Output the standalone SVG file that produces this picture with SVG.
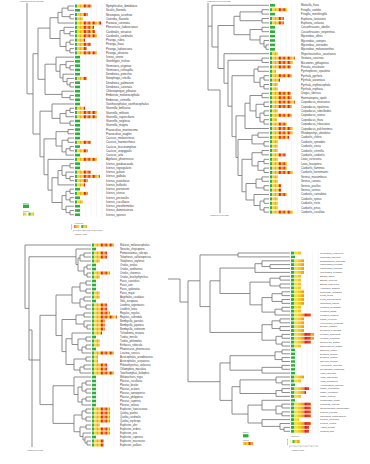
<svg xmlns="http://www.w3.org/2000/svg" width="370" height="464" viewBox="0 0 370 464">
<defs>
<style>
.t{fill:none;stroke:#7a7a7a;stroke-width:0.85}
.gr{fill:none;stroke:#e4e4e4;stroke-width:0.35}
.ax{fill:none;stroke:#888;stroke-width:0.4}
.g{fill:#2fae3e}
.lb{font-family:"Liberation Sans",Arial,sans-serif;fill:#3a3a3a}
.sm{font-family:"Liberation Sans",Arial,sans-serif;fill:#555;font-size:1.8px}
</style>
<g id="stripes">
<rect x="0" y="0" width="2.2" height="464" fill="#2fae3e"/>
<rect x="2.2" y="0" width="2.2" height="464" fill="#f4dc12"/>
<rect x="4.4" y="0" width="2.2" height="464" fill="#f5a21c"/>
<rect x="6.6" y="0" width="2.2" height="464" fill="#f4dc12"/>
<rect x="8.8" y="0" width="2.2" height="464" fill="#e3211c"/>
<rect x="11" y="0" width="2.2" height="464" fill="#f5a21c"/>
<rect x="13.2" y="0" width="2.2" height="464" fill="#e3211c"/>
<rect x="15.4" y="0" width="2.2" height="464" fill="#f4dc12"/>
<rect x="17.6" y="0" width="2.2" height="464" fill="#e3211c"/>
<rect x="19.8" y="0" width="2.2" height="464" fill="#f5a21c"/>
<rect x="22" y="0" width="2.2" height="464" fill="#f4dc12"/>
<rect x="24.2" y="0" width="2.2" height="464" fill="#e3211c"/>
</g>
<g id="cols">
<rect x="0" y="0" width="3.3" height="464" fill="#2fae3e"/>
<rect x="3.3" y="0" width="3.3" height="464" fill="#f4e02a"/>
<rect x="6.6" y="0" width="3.3" height="464" fill="#f6c81e"/>
<rect x="9.9" y="0" width="3.3" height="464" fill="#f5a21c"/>
<rect x="13.2" y="0" width="3.3" height="464" fill="#e3211c"/>
<rect x="16.5" y="0" width="3.3" height="464" fill="#e8401c"/>
<rect x="19.8" y="0" width="3.3" height="464" fill="#f5a21c"/>
<rect x="23.1" y="0" width="3.3" height="464" fill="#e3211c"/>
</g>
<pattern id="pTL" patternUnits="userSpaceOnUse" x="75" y="0" width="26.4" height="464"><use href="#stripes"/></pattern>
<pattern id="pTR" patternUnits="userSpaceOnUse" x="270" y="0" width="26.4" height="464"><use href="#stripes"/></pattern>
<pattern id="pBL" patternUnits="userSpaceOnUse" x="92" y="0" width="26.4" height="464"><use href="#stripes"/></pattern>
<pattern id="pBR" patternUnits="userSpaceOnUse" x="291" y="0" width="26.4" height="464"><use href="#cols"/></pattern>
<pattern id="pLg" patternUnits="userSpaceOnUse" x="0" y="0" width="26.4" height="464"><use href="#stripes" x="2.2"/></pattern>
</defs>
<rect width="370" height="464" fill="#ffffff"/>

<!-- ================= TOP LEFT ================= -->
<g id="panel-top-left">
<text class="sm" x="20" y="2.2">continued from previous page</text>
<path class="gr" d="M75 4V217M80.4 4V217M85.8 4V217M91.2 4V217M96.6 4V217M102 4V217"/>
<g id="tl-connectors">
<path class="t" d="M27 3V93.85H33M33 53.7V134M33 53.7H38M33 134H40M38 28.1V79.3M38 28.1H50M38 79.3H45M50 17.7V38.5M50 17.7H58M50 38.5H60M58 12.39V23.04M58 12.39H62M58 23.04H74M62 8.13V16.65M62 8.13H68M62 16.65H70M68 6V10.26M68 6H74M68 10.26H74M70 14.52V18.78M70 14.52H74M70 18.78H74M60 30.5V46.47M60 30.5H64M60 46.47H66M64 27.3V33.69M64 27.3H74M64 33.69H70M70 31.56V35.82M70 31.56H74M70 35.82H74M66 42.21V50.73M66 42.21H70M66 50.73H70M70 40.08V44.34M70 40.08H74M70 44.34H74M70 48.6V52.86M70 48.6H74M70 52.86H74M45 64.2V94.4M45 64.2H56M45 94.4H62M56 57.12V71.25M56 57.12H74M56 71.25H60M60 64.6V77.9M60 64.6H66M60 77.9H63M66 61.38V67.77M66 61.38H74M66 67.77H70M70 65.64V69.9M70 65.64H74M70 69.9H74M63 74.16V81.6M63 74.16H74M63 81.6H67M67 78.42V84.81M67 78.42H74M67 84.81H70M70 82.68V86.94M70 82.68H74M70 86.94H74M62 91.2V97.6M62 91.2H74M62 97.6H70M70 95.46V99.72M70 95.46H74M70 99.72H74M40 111.17V156.8M40 111.17H52M40 156.8H44M52 103.98V118.36M52 103.98H74M52 118.36H60M60 113.56V123.15M60 113.56H66M60 123.15H70M66 110.37V116.76M66 110.37H70M66 116.76H74M70 108.24V112.5M70 108.24H74M70 112.5H74M70 121.02V125.28M70 121.02H74M70 125.28H74M44 138.86V174.73M44 138.86H56M44 174.73H48M56 131.67V146.05M56 131.67H68M56 146.05H62M68 129.54V133.8M68 129.54H74M68 133.8H74M62 140.19V151.9M62 140.19H68M62 151.9H66M68 138.06V142.32M68 138.06H74M68 142.32H74M66 148.71V155.1M66 148.71H70M66 155.1H74M70 146.58V150.84M70 146.58H74M70 150.84H74M48 159.36V190.1M48 159.36H74M48 190.1H52M52 177.73V202.5M52 177.73H58M52 202.5H62M58 170.54V184.92M58 170.54H62M58 184.92H74M62 165.75V175.33M62 165.75H70M62 175.33H66M70 163.62V167.88M70 163.62H74M70 167.88H74M66 172.14V178.53M66 172.14H74M66 178.53H70M70 176.4V180.66M70 176.4H74M70 180.66H74M62 195.57V209.42M62 195.57H66M62 209.42H66M66 191.31V199.83M66 191.31H70M66 199.83H70M70 189.18V193.44M70 189.18H74M70 193.44H74M70 197.7V201.96M70 197.7H74M70 201.96H74M66 206.22V212.61M66 206.22H74M66 212.61H70M70 210.48V214.74M70 210.48H74M70 214.74H74"/>
</g>
<g id="tl-bars" fill="url(#pTL)">
<rect x="75" y="4.5" width="17" height="3"/>
<rect class="g" x="75" y="8.96" width="5" height="2.6"/>
<rect x="75" y="13.02" width="13" height="3"/>
<rect x="75" y="17.28" width="8" height="3"/>
<rect x="75" y="21.54" width="26" height="3"/>
<rect x="75" y="25.8" width="19" height="3"/>
<rect x="75" y="30.06" width="20" height="3"/>
<rect x="75" y="34.32" width="22" height="3"/>
<rect x="75" y="38.58" width="10" height="3"/>
<rect x="75" y="42.84" width="16" height="3"/>
<rect x="75" y="47.1" width="12" height="3"/>
<rect x="75" y="51.36" width="22" height="3"/>
<rect class="g" x="75" y="55.82" width="5" height="2.6"/>
<rect class="g" x="75" y="60.08" width="5" height="2.6"/>
<rect class="g" x="75" y="64.34" width="5" height="2.6"/>
<rect class="g" x="75" y="68.6" width="5" height="2.6"/>
<rect class="g" x="75" y="72.86" width="5" height="2.6"/>
<rect x="75" y="76.92" width="12" height="3"/>
<rect class="g" x="75" y="81.38" width="5" height="2.6"/>
<rect class="g" x="75" y="85.64" width="5" height="2.6"/>
<rect class="g" x="75" y="89.9" width="5" height="2.6"/>
<rect class="g" x="75" y="94.16" width="5" height="2.6"/>
<rect class="g" x="75" y="98.42" width="5" height="2.6"/>
<rect class="g" x="75" y="102.68" width="5" height="2.6"/>
<rect x="75" y="106.74" width="10" height="3"/>
<rect x="75" y="111" width="22" height="3"/>
<rect x="75" y="115.26" width="22" height="3"/>
<rect class="g" x="75" y="119.72" width="5" height="2.6"/>
<rect class="g" x="75" y="123.98" width="5" height="2.6"/>
<rect class="g" x="75" y="128.24" width="5" height="2.6"/>
<rect class="g" x="75" y="132.5" width="5" height="2.6"/>
<rect class="g" x="75" y="136.76" width="5" height="2.6"/>
<rect x="75" y="140.82" width="16" height="3"/>
<rect class="g" x="75" y="145.28" width="5" height="2.6"/>
<rect x="75" y="149.34" width="13" height="3"/>
<rect class="g" x="75" y="153.8" width="5" height="2.6"/>
<rect x="75" y="157.86" width="22" height="3"/>
<rect class="g" x="75" y="162.32" width="5" height="2.6"/>
<rect class="g" x="75" y="166.58" width="5" height="2.6"/>
<rect x="75" y="170.64" width="16" height="3"/>
<rect x="75" y="174.9" width="25" height="3"/>
<rect x="75" y="179.16" width="13" height="3"/>
<rect x="75" y="183.42" width="10" height="3"/>
<rect class="g" x="75" y="187.88" width="5" height="2.6"/>
<rect x="75" y="191.94" width="13" height="3"/>
<rect class="g" x="75" y="196.4" width="5" height="2.6"/>
<rect x="75" y="200.46" width="8" height="3"/>
<rect class="g" x="75" y="204.92" width="5" height="2.6"/>
<rect class="g" x="75" y="209.18" width="5" height="2.6"/>
<rect class="g" x="75" y="213.44" width="5" height="2.6"/>
</g>
<g id="tl-labels">
<text class="lb" font-size="2.9" x="106" y="7"><tspan x="106" dy="0">Nymphicolus_dimidiatus</tspan><tspan x="106" dy="4.26">Sicalis_flaveola</tspan><tspan x="106" dy="4.26">Nesospiza_acunhae</tspan><tspan x="106" dy="4.26">Coereba_flaveola</tspan><tspan x="106" dy="4.26">Paroaria_coronata</tspan><tspan x="106" dy="4.26">Pheucticus_ludovicianus</tspan><tspan x="106" dy="4.26">Cardinalis_sinuatus</tspan><tspan x="106" dy="4.26">Cardinalis_cardinalis</tspan><tspan x="106" dy="4.26">Piranga_rubra</tspan><tspan x="106" dy="4.26">Piranga_flava</tspan><tspan x="106" dy="4.26">Piranga_ludoviciana</tspan><tspan x="106" dy="4.26">Piranga_olivacea</tspan><tspan x="106" dy="4.26">Icteria_virens</tspan><tspan x="106" dy="4.26">Geothlypis_trichas</tspan><tspan x="106" dy="4.26">Vermivora_virginiae</tspan><tspan x="106" dy="4.26">Vermivora_ruficapilla</tspan><tspan x="106" dy="4.26">Dendroica_petechia</tspan><tspan x="106" dy="4.26">Setophaga_ruticilla</tspan><tspan x="106" dy="4.26">Dendroica_palmarum</tspan><tspan x="106" dy="4.26">Dendroica_coronata</tspan><tspan x="106" dy="4.26">Chlorospingus_pileatus</tspan><tspan x="106" dy="4.26">Emberiza_melanocephala</tspan><tspan x="106" dy="4.26">Emberiza_citrinella</tspan><tspan x="106" dy="4.26">Xanthocephalus_xanthocephalus</tspan><tspan x="106" dy="4.26">Sturnella_bellicosa</tspan><tspan x="106" dy="4.26">Sturnella_militaris</tspan><tspan x="106" dy="4.26">Sturnella_superciliaris</tspan><tspan x="106" dy="4.26">Sturnella_neglecta</tspan><tspan x="106" dy="4.26">Sturnella_magna</tspan><tspan x="106" dy="4.26">Psarocolius_montezuma</tspan><tspan x="106" dy="4.26">Psarocolius_wagleri</tspan><tspan x="106" dy="4.26">Cacicus_melanicterus</tspan><tspan x="106" dy="4.26">Cacicus_haemorrhous</tspan><tspan x="106" dy="4.26">Cacicus_leucoramphus</tspan><tspan x="106" dy="4.26">Cacicus_uropygialis</tspan><tspan x="106" dy="4.26">Cacicus_cela</tspan><tspan x="106" dy="4.26">Agelaius_phoeniceus</tspan><tspan x="106" dy="4.26">Icterus_graduacauda</tspan><tspan x="106" dy="4.26">Icterus_nigrogularis</tspan><tspan x="106" dy="4.26">Icterus_gularis</tspan><tspan x="106" dy="4.26">Icterus_galbula</tspan><tspan x="106" dy="4.26">Icterus_pustulatus</tspan><tspan x="106" dy="4.26">Icterus_bullockii</tspan><tspan x="106" dy="4.26">Icterus_parisorum</tspan><tspan x="106" dy="4.26">Icterus_icterus</tspan><tspan x="106" dy="4.26">Icterus_pectoralis</tspan><tspan x="106" dy="4.26">Icterus_cucullatus</tspan><tspan x="106" dy="4.26">Icterus_prosthemelas</tspan><tspan x="106" dy="4.26">Icterus_dominicensis</tspan><tspan x="106" dy="4.26">Icterus_spurius</tspan></text>
</g>
<g id="tl-legend">
<text class="sm" x="23" y="203.6">absent</text>
<rect class="g" x="23" y="204.6" width="6" height="3.4"/>
<text class="sm" x="23" y="211.6">present</text>
<rect x="23" y="212.6" width="11" height="3" fill="url(#pLg)"/>
</g>
<g id="tl-scale">
<text class="sm" x="74" y="223.6"># reactions</text>
<path class="ax" d="M71.5 224.5V229.5M71 225H72M71 229H72"/>
<rect x="74" y="225" width="13" height="3" fill="url(#pLg)"/>
<path class="ax" d="M73 230.5H103M73 230.5V231.5M78.4 230.5V231.5M83.8 230.5V231.5M89.2 230.5V231.5M94.6 230.5V231.5M100 230.5V231.5"/>
<text class="sm" x="75" y="234.6">pathway length</text>
</g>
</g>

<!-- ================= TOP RIGHT ================= -->
<g id="panel-top-right">
<text class="sm" x="207" y="2.4">continued from previous page</text>
<path class="gr" d="M270 3V214M275.4 3V214M280.8 3V214M286.2 3V214M291.6 3V214M297 3V214"/>
<g id="tr-connectors">
<path class="t" d="M208 3V90M208 26.15H212M208 90H220V213M212 5.3V47M212 5.3H269M212 47H218M218 25.5V68.5M218 25.5H234M218 68.5H224M234 16.3V34.7M234 16.3H240M234 34.7H250M240 11.9V20.7M240 11.9H262M240 20.7H262M262 9.7V14.1M262 9.7H269M262 14.1H269M262 18.5V22.9M262 18.5H269M262 22.9H269M250 29.5V39.95M250 29.5H262M250 39.95H260M262 27.3V31.7M262 27.3H269M262 31.7H269M260 36.1V43.8M260 36.1H269M260 43.8H264M264 40.5V47.1M264 40.5H269M264 47.1H266M266 44.9V49.3M266 44.9H269M266 49.3H269M224 53.7V83.25M224 53.7H269M224 83.25H228M228 60.3V106.2M228 60.3H262M228 106.2H232M262 58.1V62.5M262 58.1H269M262 62.5H269M232 75.7V136.7M232 75.7H254M232 136.7H236M254 69.1V82.3M254 69.1H258M254 82.3H260M258 66.9V71.3M258 66.9H269M258 71.3H269M260 77.9V86.7M260 77.9H264M260 86.7H264M264 75.7V80.1M264 75.7H269M264 80.1H269M264 84.5V88.9M264 84.5H269M264 88.9H269M236 115.85V157.5M236 115.85H245M236 157.5H238M245 103.2V128.5M245 103.2H250M245 128.5H269M250 95.5V110.9M250 95.5H262M250 110.9H256M262 93.3V97.7M262 93.3H269M262 97.7H269M256 104.3V117.5M256 104.3H264M256 117.5H260M264 102.1V106.5M264 102.1H269M264 106.5H269M260 113.1V121.9M260 113.1H264M260 121.9H264M264 110.9V115.3M264 110.9H269M264 115.3H269M264 119.7V124.1M264 119.7H269M264 124.1H269M238 139.5V175.5M238 139.5H252M238 175.5H242M252 135.1V143.9M252 135.1H258M252 143.9H264M258 132.9V137.3M258 132.9H269M258 137.3H269M264 141.7V146.1M264 141.7H269M264 146.1H269M242 159.3V191.75M242 159.3H252M242 191.75H246M252 152.7V165.9M252 152.7H262M252 165.9H258M262 150.5V154.9M262 150.5H269M262 154.9H269M258 161.5V170.3M258 161.5H264M258 170.3H264M264 159.3V163.7M264 159.3H269M264 163.7H269M264 168.1V172.5M264 168.1H269M264 172.5H269M246 183.5V200M246 183.5H256M246 200H254M256 179.1V187.9M256 179.1H262M256 187.9H264M262 176.9V181.3M262 176.9H269M262 181.3H269M264 185.7V190.1M264 185.7H269M264 190.1H269M254 194.5V205.5M254 194.5H269M254 205.5H260M260 201.1V209.9M260 201.1H264M260 209.9H264M264 198.9V203.3M264 198.9H269M264 203.3H269M264 207.7V212.1M264 207.7H269M264 212.1H269"/>
</g>
<g id="tr-bars" fill="url(#pTR)">
<rect class="g" x="270" y="4" width="5" height="2.6"/>
<rect x="270" y="8.2" width="17" height="3"/>
<rect class="g" x="270" y="12.8" width="5" height="2.6"/>
<rect x="270" y="17" width="14" height="3"/>
<rect x="270" y="21.4" width="14" height="3"/>
<rect class="g" x="270" y="26" width="5" height="2.6"/>
<rect class="g" x="270" y="30.4" width="5" height="2.6"/>
<rect class="g" x="270" y="34.8" width="5" height="2.6"/>
<rect class="g" x="270" y="39.2" width="5" height="2.6"/>
<rect class="g" x="270" y="43.6" width="5" height="2.6"/>
<rect class="g" x="270" y="48" width="5" height="2.6"/>
<rect x="270" y="52.2" width="8" height="3"/>
<rect x="270" y="56.6" width="25" height="3"/>
<rect x="270" y="61" width="23" height="3"/>
<rect x="270" y="65.4" width="21" height="3"/>
<rect x="270" y="69.8" width="6" height="3"/>
<rect x="270" y="74.2" width="22" height="3"/>
<rect x="270" y="78.6" width="10" height="3"/>
<rect x="270" y="83" width="8" height="3"/>
<rect x="270" y="87.4" width="8" height="3"/>
<rect x="270" y="91.8" width="21" height="3"/>
<rect x="270" y="96.2" width="22" height="3"/>
<rect x="270" y="100.6" width="25" height="3"/>
<rect x="270" y="105" width="22" height="3"/>
<rect x="270" y="109.4" width="8" height="3"/>
<rect x="270" y="113.8" width="22" height="3"/>
<rect x="270" y="118.2" width="7" height="3"/>
<rect x="270" y="122.6" width="17" height="3"/>
<rect x="270" y="127" width="23" height="3"/>
<rect x="270" y="131.4" width="23" height="3"/>
<rect x="270" y="135.8" width="19" height="3"/>
<rect x="270" y="140.2" width="8" height="3"/>
<rect x="270" y="144.6" width="8" height="3"/>
<rect x="270" y="149" width="8" height="3"/>
<rect x="270" y="153.4" width="16" height="3"/>
<rect x="270" y="157.8" width="8" height="3"/>
<rect x="270" y="162.2" width="17" height="3"/>
<rect x="270" y="166.6" width="17" height="3"/>
<rect x="270" y="171" width="23" height="3"/>
<rect x="270" y="175.4" width="8" height="3"/>
<rect x="270" y="179.8" width="8" height="3"/>
<rect x="270" y="184.2" width="11" height="3"/>
<rect x="270" y="188.6" width="11" height="3"/>
<rect x="270" y="193" width="17" height="3"/>
<rect x="270" y="197.4" width="8" height="3"/>
<rect x="270" y="201.8" width="8" height="3"/>
<rect x="270" y="206.2" width="8" height="3"/>
<rect x="270" y="210.6" width="23" height="3"/>
</g>
<g id="tr-labels">
<text class="lb" font-size="2.7" x="301" y="6.3"><tspan x="301" dy="0">Motacilla_flava</tspan><tspan x="301" dy="4.4">Fringilla_coelebs</tspan><tspan x="301" dy="4.4">Fringilla_montifringilla</tspan><tspan x="301" dy="4.4">Euphonia_laniirostris</tspan><tspan x="301" dy="4.4">Euphonia_violacea</tspan><tspan x="301" dy="4.4">Coccothraustes_abeillei</tspan><tspan x="301" dy="4.4">Coccothraustes_vespertinus</tspan><tspan x="301" dy="4.4">Mycerobas_affinis</tspan><tspan x="301" dy="4.4">Mycerobas_carnipes</tspan><tspan x="301" dy="4.4">Mycerobas_icterioides</tspan><tspan x="301" dy="4.4">Mycerobas_melanozanthos</tspan><tspan x="301" dy="4.4">Rhynchostruthus_socotranus</tspan><tspan x="301" dy="4.4">Vestiaria_coccinea</tspan><tspan x="301" dy="4.4">Bucanetes_githagineus</tspan><tspan x="301" dy="4.4">Pinicola_enucleator</tspan><tspan x="301" dy="4.4">Pyrrhoplectes_epauletta</tspan><tspan x="301" dy="4.4">Pyrrhula_pyrrhula</tspan><tspan x="301" dy="4.4">Pyrrhula_aurantiaca</tspan><tspan x="301" dy="4.4">Pyrrhula_erythrocephala</tspan><tspan x="301" dy="4.4">Pyrrhula_erythaca</tspan><tspan x="301" dy="4.4">Uragus_sibiricus</tspan><tspan x="301" dy="4.4">Haematospiza_sipahi</tspan><tspan x="301" dy="4.4">Carpodacus_mexicanus</tspan><tspan x="301" dy="4.4">Carpodacus_nipalensis</tspan><tspan x="301" dy="4.4">Carpodacus_rubicilloides</tspan><tspan x="301" dy="4.4">Carpodacus_roseus</tspan><tspan x="301" dy="4.4">Carpodacus_thura</tspan><tspan x="301" dy="4.4">Carpodacus_trifasciatus</tspan><tspan x="301" dy="4.4">Carpodacus_pulcherrimus</tspan><tspan x="301" dy="4.4">Rhodopechys_obsoletus</tspan><tspan x="301" dy="4.4">Carduelis_chloris</tspan><tspan x="301" dy="4.4">Carduelis_spinoides</tspan><tspan x="301" dy="4.4">Carduelis_sinica</tspan><tspan x="301" dy="4.4">Carduelis_citrinella</tspan><tspan x="301" dy="4.4">Carduelis_carduelis</tspan><tspan x="301" dy="4.4">Loxia_curvirostra</tspan><tspan x="301" dy="4.4">Loxia_leucoptera</tspan><tspan x="301" dy="4.4">Carduelis_flammea</tspan><tspan x="301" dy="4.4">Carduelis_hornemanni</tspan><tspan x="301" dy="4.4">Serinus_mozambicus</tspan><tspan x="301" dy="4.4">Serinus_canaria</tspan><tspan x="301" dy="4.4">Serinus_pusillus</tspan><tspan x="301" dy="4.4">Serinus_serinus</tspan><tspan x="301" dy="4.4">Carduelis_cannabina</tspan><tspan x="301" dy="4.4">Carduelis_spinus</tspan><tspan x="301" dy="4.4">Carduelis_tristis</tspan><tspan x="301" dy="4.4">Carduelis_pinus</tspan><tspan x="301" dy="4.4">Carduelis_cucullata</tspan></text>
</g>
<text class="sm" x="210" y="216">continued on next page</text>
</g>

<!-- ================= BOTTOM LEFT ================= -->
<g id="panel-bottom-left">
<path class="gr" d="M92 243V447M97.4 243V447M102.8 243V447M108.2 243V447M113.6 243V447"/>
<g id="bl-connectors">
<path class="t" d="M25 245V308.4H29M25 245H91M29 256.75V360M29 256.75H76M29 360H40M29 330H32V447M76 249V264.5M76 249H91M76 264.5H78M78 258V271M78 258H80M78 271H84M80 255V261M80 255H84M80 261H91M84 253V257M84 253H91M84 257H91M84 267V275M84 267H87M84 275H87M87 265V269M87 265H91M87 269H91M87 273V277M87 273H91M87 277H91M40 315.3V404.6M40 315.3H56M40 404.6H53M56 295V335.55M56 295H72M56 335.55H62M72 287V303M72 287H80M72 303H80M80 283V291M80 283H86M80 291H86M86 281V285M86 281H91M86 285H91M86 289V293M86 289H91M86 293H91M80 299V307M80 299H84M80 307H86M84 297V301M84 297H91M84 301H91M86 305V309M86 305H91M86 309H91M62 319.5V351.6M62 319.5H76M62 351.6H66M76 315V324M76 315H84M76 324H84M84 313V317M84 313H91M84 317H91M84 321V327M84 321H91M84 327H87M87 325V329M87 325H91M87 329H91M66 338.75V364.5M66 338.75H72M66 364.5H74M72 333V344.5M72 333H91M72 344.5H78M78 339V350M78 339H86M78 350H82M86 337V341M86 337H91M86 341H91M82 347V353M82 347H86M82 353H91M86 345V349M86 345H91M86 349H91M74 359V370M74 359H86M74 370H80M86 357V361M86 357H91M86 361H91M80 367V373M80 367H84M80 373H91M84 365V369M84 365H91M84 369H91M53 385.75V423.4M53 385.75H74M53 423.4H74M74 377V394.5M74 377H91M74 394.5H78M78 387V402M78 387H82M78 402H82M82 383V391M82 383H86M82 391H86M86 381V385M86 381H91M86 385H91M86 389V393M86 389H91M86 393H91M82 399V405M82 399H86M82 405H91M86 397V401M86 397H91M86 401H91M74 415V431.75M74 415H82M74 431.75H80M82 411V419M82 411H86M82 419H86M86 409V413M86 409H91M86 413H91M86 417V421M86 417H91M86 421H91M80 427V436.5M80 427H86M80 436.5H83M86 425V429M86 425H91M86 429H91M83 433V440M83 433H91M83 440H85M85 437V443M85 437H91M85 443H87M87 441V445M87 441H91M87 445H91"/>
</g>
<g id="bl-bars" fill="url(#pBL)">
<rect x="92" y="243.5" width="22" height="3"/>
<rect class="g" x="92" y="247.7" width="4" height="2.6"/>
<rect x="92" y="251.5" width="15" height="3"/>
<rect x="92" y="255.5" width="15" height="3"/>
<rect x="92" y="259.5" width="8" height="3"/>
<rect class="g" x="92" y="263.7" width="4" height="2.6"/>
<rect class="g" x="92" y="267.7" width="4" height="2.6"/>
<rect x="92" y="271.5" width="18" height="3"/>
<rect x="92" y="275.5" width="8" height="3"/>
<rect class="g" x="92" y="279.7" width="4" height="2.6"/>
<rect class="g" x="92" y="283.7" width="4" height="2.6"/>
<rect class="g" x="92" y="287.7" width="4" height="2.6"/>
<rect x="92" y="291.5" width="8" height="3"/>
<rect x="92" y="295.5" width="8" height="3"/>
<rect class="g" x="92" y="299.7" width="4" height="2.6"/>
<rect x="92" y="303.5" width="15" height="3"/>
<rect x="92" y="307.5" width="15" height="3"/>
<rect x="92" y="311.5" width="18" height="3"/>
<rect x="92" y="315.5" width="25" height="3"/>
<rect x="92" y="319.5" width="13" height="3"/>
<rect x="92" y="323.5" width="13" height="3"/>
<rect x="92" y="327.5" width="13" height="3"/>
<rect x="92" y="331.5" width="10" height="3"/>
<rect class="g" x="92" y="335.7" width="4" height="2.6"/>
<rect x="92" y="339.5" width="8" height="3"/>
<rect x="92" y="343.5" width="8" height="3"/>
<rect class="g" x="92" y="347.7" width="4" height="2.6"/>
<rect x="92" y="351.5" width="22" height="3"/>
<rect x="92" y="355.5" width="6" height="3"/>
<rect x="92" y="359.5" width="6" height="3"/>
<rect x="92" y="363.5" width="15" height="3"/>
<rect x="92" y="367.5" width="15" height="3"/>
<rect x="92" y="371.5" width="22" height="3"/>
<rect class="g" x="92" y="375.7" width="4" height="2.6"/>
<rect class="g" x="92" y="379.7" width="4" height="2.6"/>
<rect class="g" x="92" y="383.7" width="4" height="2.6"/>
<rect class="g" x="92" y="387.7" width="4" height="2.6"/>
<rect class="g" x="92" y="391.7" width="4" height="2.6"/>
<rect class="g" x="92" y="395.7" width="4" height="2.6"/>
<rect class="g" x="92" y="399.7" width="4" height="2.6"/>
<rect class="g" x="92" y="403.7" width="4" height="2.6"/>
<rect x="92" y="407.5" width="18" height="3"/>
<rect x="92" y="411.5" width="18" height="3"/>
<rect x="92" y="415.5" width="18" height="3"/>
<rect x="92" y="419.5" width="18" height="3"/>
<rect x="92" y="423.5" width="8" height="3"/>
<rect x="92" y="427.5" width="18" height="3"/>
<rect x="92" y="431.5" width="18" height="3"/>
<rect class="g" x="92" y="435.7" width="4" height="2.6"/>
<rect x="92" y="439.5" width="12" height="3"/>
<rect x="92" y="443.5" width="12" height="3"/>
</g>
<g id="bl-labels">
<text class="lb" font-size="2.6" x="120" y="246"><tspan x="120" dy="0">Malurus_melanocephalus</tspan><tspan x="120" dy="4">Neositta_chrysoptera</tspan><tspan x="120" dy="4">Pomatostomus_ruficeps</tspan><tspan x="120" dy="4">Telophorus_sulfureopectus</tspan><tspan x="120" dy="4">Telophorus_zeylonus</tspan><tspan x="120" dy="4">Oriolus_oriolus</tspan><tspan x="120" dy="4">Oriolus_xanthornus</tspan><tspan x="120" dy="4">Oriolus_chinensis</tspan><tspan x="120" dy="4">Oriolus_brachyrhynchus</tspan><tspan x="120" dy="4">Parus_caeruleus</tspan><tspan x="120" dy="4">Parus_ater</tspan><tspan x="120" dy="4">Parus_spilonotus</tspan><tspan x="120" dy="4">Parus_major</tspan><tspan x="120" dy="4">Aegithalos_caudatus</tspan><tspan x="120" dy="4">Sitta_europaea</tspan><tspan x="120" dy="4">Leiothrix_argentauris</tspan><tspan x="120" dy="4">Leiothrix_lutea</tspan><tspan x="120" dy="4">Regulus_regulus</tspan><tspan x="120" dy="4">Regulus_calendula</tspan><tspan x="120" dy="4">Bombycilla_garrulus</tspan><tspan x="120" dy="4">Bombycilla_japonica</tspan><tspan x="120" dy="4">Bombycilla_cedrorum</tspan><tspan x="120" dy="4">Tichodroma_muraria</tspan><tspan x="120" dy="4">Turdus_merula</tspan><tspan x="120" dy="4">Turdus_philomelos</tspan><tspan x="120" dy="4">Erithacus_rubecula</tspan><tspan x="120" dy="4">Phoenicurus_phoenicurus</tspan><tspan x="120" dy="4">Luscinia_svecica</tspan><tspan x="120" dy="4">Acrocephalus_arundinaceus</tspan><tspan x="120" dy="4">Acrocephalus_scirpaceus</tspan><tspan x="120" dy="4">Ptilonorhynchus_violaceus</tspan><tspan x="120" dy="4">Chlamydera_maculata</tspan><tspan x="120" dy="4">Toxorhamphus_iliolophus</tspan><tspan x="120" dy="4">Melanocharis_nigra</tspan><tspan x="120" dy="4">Ploceus_cucullatus</tspan><tspan x="120" dy="4">Ploceus_bicolor</tspan><tspan x="120" dy="4">Ploceus_ocularis</tspan><tspan x="120" dy="4">Ploceus_taeniopterus</tspan><tspan x="120" dy="4">Ploceus_philippinus</tspan><tspan x="120" dy="4">Ploceus_capensis</tspan><tspan x="120" dy="4">Ploceus_velatus</tspan><tspan x="120" dy="4">Euplectes_franciscanus</tspan><tspan x="120" dy="4">Quelea_quelea</tspan><tspan x="120" dy="4">Quelea_cardinalis</tspan><tspan x="120" dy="4">Quelea_erythrops</tspan><tspan x="120" dy="4">Euplectes_afer</tspan><tspan x="120" dy="4">Euplectes_ardens</tspan><tspan x="120" dy="4">Euplectes_orix</tspan><tspan x="120" dy="4">Euplectes_capensis</tspan><tspan x="120" dy="4">Euplectes_macrourus</tspan><tspan x="120" dy="4">Euplectes_axillaris</tspan></text>
</g>
<text class="sm" x="27" y="450.5">continued next page</text>
</g>

<!-- ================= BOTTOM RIGHT ================= -->
<g id="panel-bottom-right">
<path class="gr" d="M291 251V433M296.4 251V433M301.8 251V433M307.2 251V433M312.6 251V433M318 251V433"/>
<g id="br-connectors">
<path class="t" d="M168 279H180V302H188M188 280.8V381.7M188 280.8H200M188 381.7H220M200 254.95V306.6M200 254.95H238M200 306.6H210M238 253V256.9M238 253H290M238 256.9H290M210 280.8V332.45M210 280.8H220M210 332.45H262M220 268.05V293.5M220 268.05H255M220 293.5H250M255 263.7V272.4M255 263.7H262M255 272.4H290M262 260.8V266.55M262 260.8H290M262 266.55H270M270 264.6V268.5M270 264.6H290M270 268.5H290M250 282.1V304.85M250 282.1H270M250 304.85H262M270 278.2V285.95M270 278.2H280M270 285.95H280M280 276.3V280.1M280 276.3H290M280 280.1H290M280 284V287.9M280 284H290M280 287.9H290M262 297.6V312.1M262 297.6H272M262 312.1H275M272 293.7V301.45M272 293.7H282M272 301.45H282M282 291.8V295.6M282 291.8H290M282 295.6H290M282 299.5V303.4M282 299.5H290M282 303.4H290M275 309.2V315M275 309.2H282M275 315H290M282 307.3V311.1M282 307.3H290M282 311.1H290M262 324.7V340.2M262 324.7H272M262 340.2H276M272 320.85V328.55M272 320.85H280M272 328.55H280M280 318.9V322.8M280 318.9H290M280 322.8H290M280 326.6V330.5M280 326.6H290M280 330.5H290M276 336.35V344.05M276 336.35H282M276 344.05H282M282 334.4V338.3M282 334.4H290M282 338.3H290M282 342.1V346M282 342.1H290M282 346H290M220 362.95V400.4M220 362.95H230M220 400.4H232M230 355.7V370.2M230 355.7H275M230 370.2H262M275 351.85V359.55M275 351.85H282M275 359.55H282M282 349.9V353.8M282 349.9H290M282 353.8H290M282 357.6V361.5M282 357.6H290M282 361.5H290M262 367.35V373.1M262 367.35H282M262 373.1H290M282 365.4V369.3M282 365.4H290M282 369.3H290M232 386.7V414.05M232 386.7H240M232 414.05H248M240 379.9V393.5M240 379.9H276M240 393.5H276M276 377V382.85M276 377H290M276 382.85H282M282 380.9V384.8M282 380.9H290M282 384.8H290M276 390.55V396.4M276 390.55H282M276 396.4H290M282 388.6V392.5M282 388.6H290M282 392.5H290M248 405.1V423M248 405.1H262M248 423H262M262 400.3V409.95M262 400.3H290M262 409.95H276M276 406.05V413.85M276 406.05H282M276 413.85H282M282 404.1V408M282 404.1H290M282 408H290M282 411.9V415.8M282 411.9H290M282 415.8H290M262 419.6V426.4M262 419.6H290M262 426.4H280M280 423.5V429.35M280 423.5H290M280 429.35H284M284 427.4V431.3M284 427.4H290M284 431.3H290"/>
</g>
<g id="br-bars" fill="url(#pBR)">
<rect x="291" y="251.6" width="10" height="2.8"/>
<rect class="g" x="291" y="255.7" width="4" height="2.4"/>
<rect x="291" y="259.4" width="13" height="2.8"/>
<rect x="291" y="263.2" width="13" height="2.8"/>
<rect x="291" y="267.1" width="13" height="2.8"/>
<rect x="291" y="271" width="13" height="2.8"/>
<rect x="291" y="274.9" width="10" height="2.8"/>
<rect x="291" y="278.7" width="10" height="2.8"/>
<rect x="291" y="282.6" width="10" height="2.8"/>
<rect x="291" y="286.5" width="10" height="2.8"/>
<rect x="291" y="290.4" width="13" height="2.8"/>
<rect x="291" y="294.2" width="13" height="2.8"/>
<rect x="291" y="298.1" width="13" height="2.8"/>
<rect x="291" y="302" width="13" height="2.8"/>
<rect x="291" y="305.9" width="10" height="2.8"/>
<rect x="291" y="309.7" width="10" height="2.8"/>
<rect x="291" y="313.6" width="20" height="2.8"/>
<rect x="291" y="317.5" width="13" height="2.8"/>
<rect x="291" y="321.4" width="13" height="2.8"/>
<rect x="291" y="325.2" width="13" height="2.8"/>
<rect x="291" y="329.1" width="13" height="2.8"/>
<rect x="291" y="333" width="23" height="2.8"/>
<rect x="291" y="336.9" width="23" height="2.8"/>
<rect x="291" y="340.7" width="20" height="2.8"/>
<rect x="291" y="344.6" width="10" height="2.8"/>
<rect class="g" x="291" y="348.7" width="4" height="2.4"/>
<rect class="g" x="291" y="352.6" width="4" height="2.4"/>
<rect class="g" x="291" y="356.4" width="4" height="2.4"/>
<rect class="g" x="291" y="360.3" width="4" height="2.4"/>
<rect class="g" x="291" y="364.2" width="4" height="2.4"/>
<rect class="g" x="291" y="368.1" width="4" height="2.4"/>
<rect class="g" x="291" y="371.9" width="4" height="2.4"/>
<rect x="291" y="375.6" width="13" height="2.8"/>
<rect x="291" y="379.5" width="10" height="2.8"/>
<rect class="g" x="291" y="383.6" width="4" height="2.4"/>
<rect x="291" y="387.2" width="18" height="2.8"/>
<rect x="291" y="391.1" width="15" height="2.8"/>
<rect x="291" y="395" width="10" height="2.8"/>
<rect class="g" x="291" y="399.1" width="4" height="2.4"/>
<rect x="291" y="402.7" width="20" height="2.8"/>
<rect x="291" y="406.6" width="20" height="2.8"/>
<rect x="291" y="410.5" width="20" height="2.8"/>
<rect x="291" y="414.4" width="20" height="2.8"/>
<rect x="291" y="418.2" width="8" height="2.8"/>
<rect x="291" y="422.1" width="20" height="2.8"/>
<rect x="291" y="426" width="18" height="2.8"/>
<rect x="291" y="429.9" width="18" height="2.8"/>
</g>
<g id="br-labels">
<text class="lb" font-size="2.2" x="320" y="253.8"><tspan x="320" dy="0">Cryptospiza_reichenovii</tspan><tspan x="320" dy="3.876">Parmoptila_jamesoni</tspan><tspan x="320" dy="3.876">Euschistospiza_dybowskii</tspan><tspan x="320" dy="3.876">Lagonosticta_senegala</tspan><tspan x="320" dy="3.876">Lagonosticta_rubricata</tspan><tspan x="320" dy="3.876">Uraeginthus_bengalus</tspan><tspan x="320" dy="3.876">Estrilda_astrild</tspan><tspan x="320" dy="3.876">Estrilda_melpoda</tspan><tspan x="320" dy="3.876">Estrilda_troglodytes</tspan><tspan x="320" dy="3.876">Amandava_subflava</tspan><tspan x="320" dy="3.876">Nesocharis_capistrata</tspan><tspan x="320" dy="3.876">Pytilia_melba</tspan><tspan x="320" dy="3.876">Pytilia_phoenicoptera</tspan><tspan x="320" dy="3.876">Mandingoa_nitidula</tspan><tspan x="320" dy="3.876">Lonchura_punctulata</tspan><tspan x="320" dy="3.876">Lonchura_striata</tspan><tspan x="320" dy="3.876">Lonchura_malacca</tspan><tspan x="320" dy="3.876">Padda_oryzivora</tspan><tspan x="320" dy="3.876">Heteromunia_pectoralis</tspan><tspan x="320" dy="3.876">Euodice_cantans</tspan><tspan x="320" dy="3.876">Neochmia_temporalis</tspan><tspan x="320" dy="3.876">Poephila_acuticauda</tspan><tspan x="320" dy="3.876">Poephila_personata</tspan><tspan x="320" dy="3.876">Taeniopygia_guttata</tspan><tspan x="320" dy="3.876">Stagonopleura_guttata</tspan><tspan x="320" dy="3.876">Emblema_pictum</tspan><tspan x="320" dy="3.876">Erythrura_trichroa</tspan><tspan x="320" dy="3.876">Erythrura_prasina</tspan><tspan x="320" dy="3.876">Chloebia_gouldiae</tspan><tspan x="320" dy="3.876">Aidemosyne_modesta</tspan><tspan x="320" dy="3.876">Oreostruthus_fuliginosus</tspan><tspan x="320" dy="3.876">Vidua_macroura</tspan><tspan x="320" dy="3.876">Vidua_chalybeata</tspan><tspan x="320" dy="3.876">Vidua_paradisaea</tspan><tspan x="320" dy="3.876">Anomalospiza_imberbis</tspan><tspan x="320" dy="3.876">Passer_domesticus</tspan><tspan x="320" dy="3.876">Passer_montanus</tspan><tspan x="320" dy="3.876">Passer_griseus</tspan><tspan x="320" dy="3.876">Montifringilla_nivalis</tspan><tspan x="320" dy="3.876">Pyrgilauda_ruficollis</tspan><tspan x="320" dy="3.876">Onychostruthus_taczanowskii</tspan><tspan x="320" dy="3.876">Petronia_petronia</tspan><tspan x="320" dy="3.876">Carpospiza_brachydactyla</tspan><tspan x="320" dy="3.876">Prunella_modularis</tspan><tspan x="320" dy="3.876">Prunella_collaris</tspan><tspan x="320" dy="3.876">Anthus_trivialis</tspan><tspan x="320" dy="3.876">Motacilla_alba</tspan></text>
</g>
<g id="br-legend">
<text class="sm" x="243" y="433.4">absent</text>
<rect class="g" x="243" y="434.2" width="5.5" height="3.2"/>
<text class="sm" x="243" y="441.2">present</text>
<rect x="243" y="442" width="10" height="3" fill="url(#pLg)"/>
</g>
<g id="br-scale">
<text class="sm" x="290" y="437.4"># reactions</text>
<path class="ax" d="M287.5 439V445M287 439.5H288M287 444.5H288"/>
<rect x="290" y="440" width="10" height="3" fill="url(#pLg)"/>
<path class="ax" d="M289.5 446H318M289.5 446V447M295 446V447M300.5 446V447M306 446V447M311.5 446V447M317 446V447"/>
<text class="sm" x="292" y="450.5">pathway length</text>
</g>
</g>
</svg>
